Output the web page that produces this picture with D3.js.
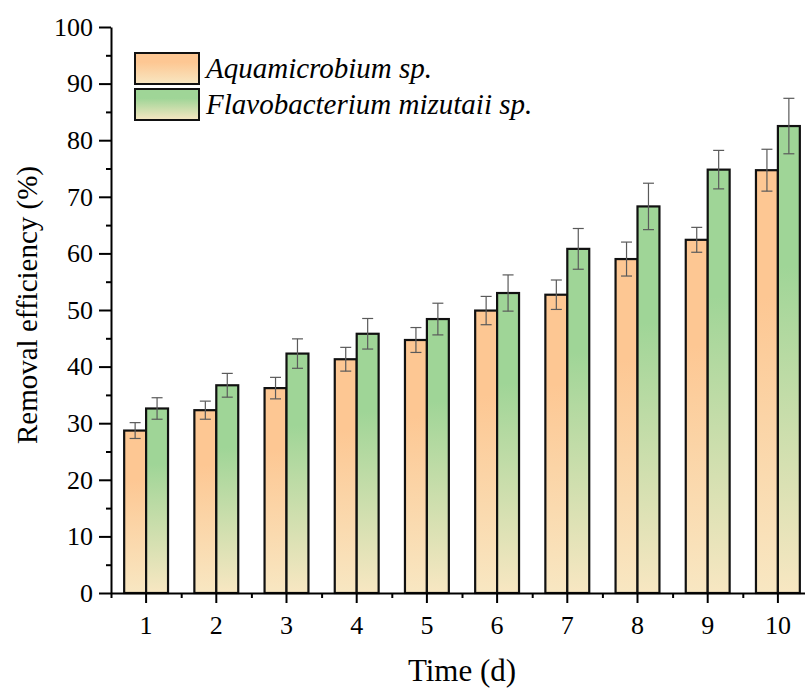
<!DOCTYPE html>
<html>
<head>
<meta charset="utf-8">
<script src="https://cdn.jsdelivr.net/npm/d3@7"></script>
<style>
  body { margin: 0; background: #fff; }
  text { font-family: "Liberation Serif", "Times New Roman", serif; fill: #000; }
</style>
</head>
<body>
<div id="chart"></div>
<script>
var days = ["1", "2", "3", "4", "5", "6", "7", "8", "9", "10"];
var seriesNames = ["Aquamicrobium sp.", "Flavobacterium mizutaii sp."];
var aquaValues = [28.7, 32.3, 36.2, 41.3, 44.7, 49.9, 52.7, 59.0, 62.4, 74.7];
var aquaErrors = [1.4, 1.6, 1.9, 2.1, 2.2, 2.5, 2.6, 3.0, 2.2, 3.7];
var flavoValues = [32.6, 36.7, 42.3, 45.8, 48.4, 53.0, 60.8, 68.3, 74.8, 82.5];
var flavoErrors = [1.9, 2.1, 2.6, 2.7, 2.8, 3.2, 3.6, 4.1, 3.4, 4.9];
var yTicks = [0, 10, 20, 30, 40, 50, 60, 70, 80, 90, 100];

var width = 805, height = 690;
var margin = { top: 27, left: 111, bottom: 97 };
var plotBottom = height - margin.bottom;

var svg = d3.select("#chart")
  .append("svg")
  .attr("width", width)
  .attr("height", height);

var colors = [
  { top: "#fdc793", bottom: "#f8e7c2" },
  { top: "#9fd597", bottom: "#f8e7c2" }
];

var defs = svg.append("defs");
colors.forEach(function(c, i) {
  var g = defs.append("linearGradient")
    .attr("id", "grad" + i)
    .attr("x1", 0).attr("y1", 0).attr("x2", 0).attr("y2", 1);
  g.append("stop").attr("offset", "0%").attr("stop-color", c.top);
  g.append("stop").attr("offset", "30%").attr("stop-color", c.top);
  g.append("stop").attr("offset", "100%").attr("stop-color", c.bottom);
});

var x = d3.scaleBand()
  .domain(days)
  .range([margin.left, margin.left + 702])
  .padding(0);

var xSub = d3.scaleBand()
  .domain([0, 1])
  .range([0, x.bandwidth()])
  .paddingInner(0)
  .paddingOuter(0.6);

var y = d3.scaleLinear()
  .domain([0, 100])
  .range([plotBottom, margin.top]);

// table for bars
var rows = [];
days.forEach(function(d, i) {
  rows.push({ day: d, s: 0, v: aquaValues[i], e: aquaErrors[i] });
  rows.push({ day: d, s: 1, v: flavoValues[i], e: flavoErrors[i] });
});

var bars = svg.append("g").attr("class", "bars");

bars.selectAll("rect")
  .data(rows)
  .enter().append("rect")
  .attr("x", function(d) { return x(d.day) + xSub(d.s); })
  .attr("y", function(d) { return y(d.v); })
  .attr("width", xSub.bandwidth())
  .attr("height", function(d) { return y(0) - y(d.v); })
  .style("fill", function(d) { return "url(#grad" + d.s + ")"; })
  .style("stroke", "#111")
  .style("stroke-width", 2.2);

// error bars
var err = svg.append("g").attr("class", "errors")
  .style("stroke", "#5a5a5a")
  .style("stroke-width", 1.2);

rows.forEach(function(d) {
  var cx = x(d.day) + xSub(d.s) + xSub.bandwidth() / 2;
  err.append("line")
    .attr("x1", cx).attr("x2", cx)
    .attr("y1", y(d.v + d.e)).attr("y2", y(d.v - d.e));
  err.append("line")
    .attr("x1", cx - 5.5).attr("x2", cx + 5.5)
    .attr("y1", y(d.v + d.e)).attr("y2", y(d.v + d.e));
  err.append("line")
    .attr("x1", cx - 5.5).attr("x2", cx + 5.5)
    .attr("y1", y(d.v - d.e)).attr("y2", y(d.v - d.e));
});

// y axis
var yAxis = svg.append("g")
  .attr("transform", "translate(" + margin.left + ",0)")
  .call(d3.axisLeft(y).tickValues(yTicks).tickSize(12).tickPadding(6).tickSizeOuter(0));
svg.append("g")
  .attr("transform", "translate(" + margin.left + ",0)")
  .call(d3.axisLeft(y).tickValues(yTicks.slice(1).map(function(t) { return t - 5; })).tickSize(5).tickFormat("").tickSizeOuter(0))
  .select(".domain").remove();

// x axis
var xAxis = svg.append("g")
  .attr("transform", "translate(0," + plotBottom + ")")
  .call(d3.axisBottom(x).tickSize(10).tickPadding(13).tickSizeOuter(0));
svg.append("g")
  .attr("transform", "translate(0," + plotBottom + ")")
  .call(d3.axisBottom(d3.scaleLinear().domain([0, 702]).range([margin.left, margin.left + 702]))
    .tickValues(days.map(function(d, i) { return i * x.step(); }))
    .tickSize(5).tickFormat("").tickSizeOuter(0))
  .select(".domain").remove();

svg.selectAll(".domain, .tick line")
  .style("stroke", "#000")
  .style("stroke-width", 2);

svg.selectAll("g").attr("font-family", null).attr("font-size", null);
svg.selectAll(".tick text")
  .style("font-family", "'Liberation Serif', serif")
  .style("font-size", "26px")
  .style("fill", "#000");

// axis titles
svg.append("text")
  .attr("transform", "translate(37,305) rotate(-90)")
  .attr("text-anchor", "middle")
  .style("font-size", "29px")
  .text("Removal efficiency (%)");

svg.append("text")
  .attr("x", 462)
  .attr("y", 681)
  .attr("text-anchor", "middle")
  .style("font-size", "31px")
  .text("Time (d)");

// legend
var legend = svg.append("g").attr("transform", "translate(135,53)");
seriesNames.forEach(function(name, i) {
  var row = legend.append("g").attr("transform", "translate(0," + (i * 36) + ")");
  row.append("rect")
    .attr("width", 64)
    .attr("height", 31)
    .style("fill", "url(#grad" + i + ")")
    .style("stroke", "#111")
    .style("stroke-width", 2);
  row.append("text")
    .attr("x", 71)
    .attr("y", 25)
    .style("font-size", "29px")
    .style("font-style", "italic")
    .text(name);
});
</script>
</body>
</html>
